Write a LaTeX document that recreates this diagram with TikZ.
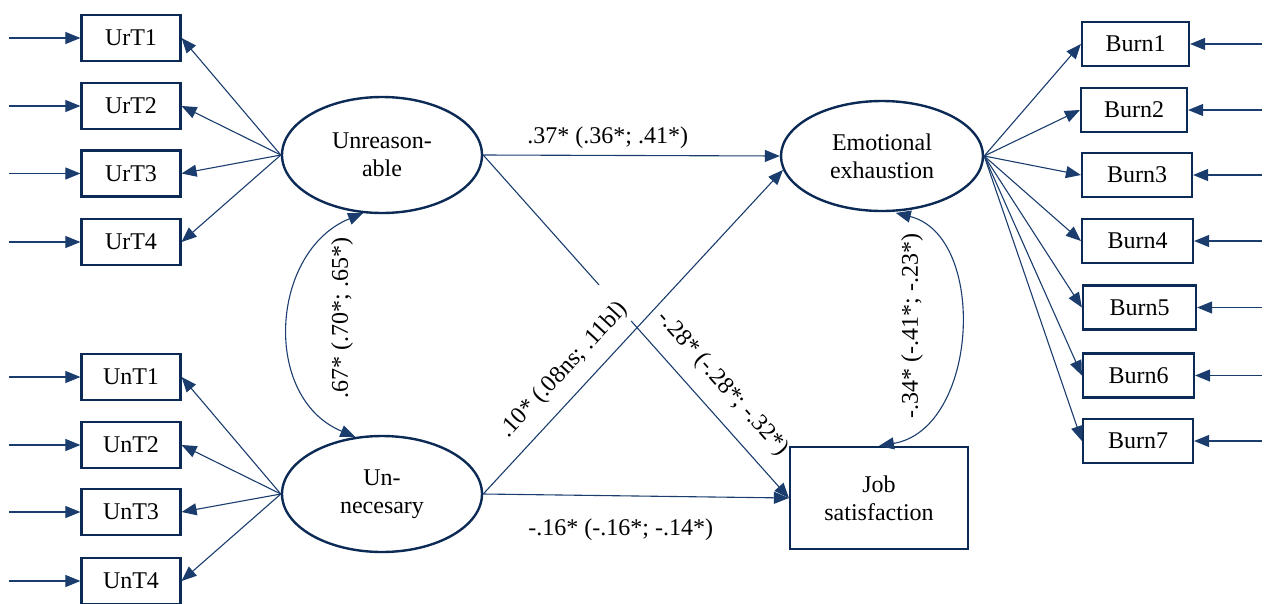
\documentclass[tikz,border=0pt]{standalone}
\usepackage{fontspec}
\setmainfont{Liberation Serif}
\usetikzlibrary{shapes.geometric,arrows.meta}
\definecolor{navy}{HTML}{0B2A55}
\definecolor{lnavy}{HTML}{1A3D6E}
\tikzset{
  every node/.style={font=\fontsize{24}{28}\selectfont, text=black},
  obs/.style={draw=navy, line width=2.2pt, rectangle, inner sep=0pt},
  lat/.style={draw=navy, line width=2.4pt, ellipse, inner sep=0pt, minimum width=200pt, minimum height=116pt, align=center},
  arr/.style={draw=lnavy, line width=1.1pt, -{Triangle[length=15pt,width=12pt]}},
  darr/.style={draw=lnavy, line width=1.1pt, {Triangle[length=15pt,width=12pt]}-{Triangle[length=15pt,width=12pt]}},
  plain/.style={draw=lnavy, line width=1.1pt},
  lab/.style={inner sep=2pt}
}
\begin{document}
\begin{tikzpicture}[x=1pt,y=-1pt]
\useasboundingbox (0,0) rectangle (1271,603);

% latent variables
\node[lat] (U) at (382,155) {Unreason-\\able};
\node[lat] (N) at (382,494) {Un-\\necesary};
\node[lat, minimum width=202pt, minimum height=110pt] (E) at (882,156) {Emotional\\exhaustion};
\node[obs, minimum width=178pt, minimum height=102pt, align=center] (J) at (879,498) {Job\\satisfaction};

% left indicators
\foreach \n/\y in {UrT1/38, UrT2/106, UrT3/173.5, UrT4/242, UnT1/377, UnT2/445, UnT3/512, UnT4/581}{
  \node[obs, minimum width=99pt, minimum height=46pt] (\n) at (131,\y) {\n};
  \coordinate (in\n) at (9,\y);
  \draw[arr] (in\n) -- (\n.west);
}
\foreach \n in {UrT1,UrT2,UrT3,UrT4}{ \draw[arr] (U.west) -- (\n.east); }
\foreach \n in {UnT1,UnT2,UnT3,UnT4}{ \draw[arr] (N.west) -- (\n.east); }

% right indicators
\foreach \n/\x/\y/\w in {Burn1/1135.5/44/107, Burn2/1134/110/106, Burn3/1137/175/110, Burn4/1137.5/241/111, Burn5/1139.5/307.5/113, Burn6/1138.5/375.5/111, Burn7/1138/441/110}{
  \node[obs, minimum width=\w pt, minimum height=44pt] (\n) at (\x,\y) {\n};
  \coordinate (in\n) at (1262,\y);
  \draw[arr] (in\n) -- (\n.east);
  \draw[arr] (E.east) -- (\n.west);
}

% structural paths
\draw[arr] (U.east) -- node[lab, above=4pt, pos=0.42] (l37) {.37* (.36*; .41*)} (E.west);
\draw[arr] (N.east) -- node[lab, below=20pt, pos=0.45] (l16) {-.16* (-.16*; -.14*)} (J.west);
\draw[arr] (N.east) -- node[lab, above=11pt, sloped, pos=0.33] (l10) {.10* (.08ns; .11bl)} (E.188);

\path (U.east) -- (J.west) coordinate[pos=0.379] (g1) coordinate[pos=0.484] (g2);
\draw[plain] (U.east) -- (g1);
\draw[arr] (g2) -- node[lab, above=13pt, sloped, pos=0.455] (l28) {-.28* (-.28*; -.32*)} (J.west);

% covariances
\draw[darr] (U.252) .. controls +(-93,38) and +(-94,-39) .. (N.115);
\node[lab, rotate=90] (l67) at (342,318) {.67* (.70*; .65*)};
\draw[darr, shorten <=4pt] (E.280) .. controls +(96,24) and +(100,-17) .. (J.north);
\node[lab, rotate=90] (l34) at (912,326) {-.34* (-.41*; -.23*)};
\end{tikzpicture}
\end{document}
